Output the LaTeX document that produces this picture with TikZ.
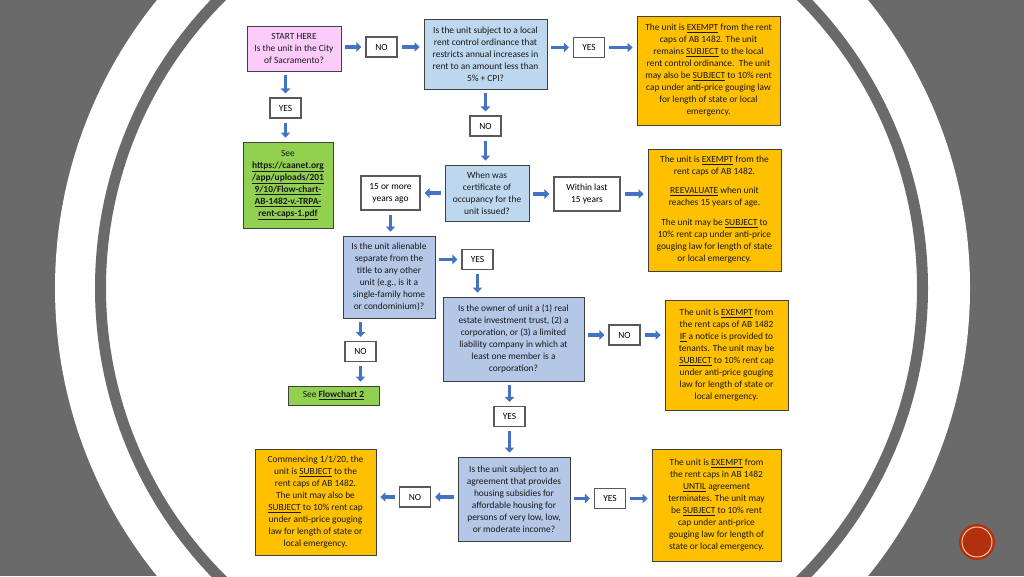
\documentclass[tikz,border=0pt]{standalone}
\usepackage{fontspec}
\setmainfont{Carlito}
\usepackage{tikz}
\usetikzlibrary{arrows.meta,calc}
\definecolor{slidegray}{HTML}{6A6A6A}
\definecolor{startpink}{HTML}{FBCBFA}
\definecolor{askblue}{HTML}{BDD7EE}
\definecolor{askblue2}{HTML}{B4C7E7}
\definecolor{ruleorange}{HTML}{FFC000}
\definecolor{linkgreen}{HTML}{92D050}
\definecolor{flowblue}{HTML}{4472C4}
\definecolor{dotred}{HTML}{B3300F}
\definecolor{dotring}{HTML}{F4C7A8}

\begin{document}
\begin{tikzpicture}[x=1pt,y=-1pt,
  card/.style={draw=black!75,line width=0.9pt,align=center,inner sep=2pt,
    font=\fontsize{9.4}{12}\selectfont,text=black!90},
  tag/.style={draw=black!65,line width=1.2pt,fill=white,align=center,inner sep=1pt,
    font=\fontsize{9.4}{12}\selectfont,minimum width=31pt,minimum height=20pt},
  flow/.style={flowblue,line width=3.6pt,shorten <=4pt,shorten >=4pt,
    -{Triangle[length=5pt,width=9.5pt]}}]
\useasboundingbox (0,0) rectangle (1024,576);
\clip (0,0) rectangle (1024,576);
% slide background
\fill[slidegray] (0,0) rectangle (1024,576);
\fill[white] (512.5,288) circle (457.5pt);
\draw[slidegray,line width=11pt] (511.5,288) circle (411pt);
\fill[dotred] (977,542) circle (18pt);
\draw[dotring,line width=1pt] (977,542) circle (15pt);

% row 1: start, local ordinance, exempt
\node[card,fill=startpink,minimum width=94pt,minimum height=45pt] (start) at (294,48.5)
  {START HERE\\Is the unit in the City\\of Sacramento?};
\node[tag] (no1) at (381.5,47) {NO};
\node[card,fill=askblue,minimum width=123pt,minimum height=70pt] (q1) at (485.5,54)
  {Is the unit subject to a local\\rent control ordinance that\\restricts annual increases in\\rent to an amount less than\\5\% + CPI?};
\node[tag] (yes1) at (589,47.5) {YES};
\node[card,fill=ruleorange,minimum width=143pt,minimum height=109pt] (a1) at (708.5,70.5)
  {The unit is \underline{EXEMPT} from the rent\\caps of AB 1482. The unit\\remains \underline{SUBJECT} to the local\\rent control ordinance.\ \ The unit\\may also be \underline{SUBJECT} to 10\% rent\\cap under anti-price gouging law\\for length of state or local\\emergency.};
\node[tag] (yes0) at (285.5,108) {YES};
\node[card,fill=linkgreen,minimum width=90pt,minimum height=86pt] (see) at (288,185)
  {See\\\textbf{\underline{https://caanet.org}}\\\textbf{\underline{/app/uploads/201}}\\\textbf{\underline{9/10/Flow-chart-}}\\\textbf{\underline{AB-1482-v.-TRPA-}}\\\textbf{\underline{rent-caps-1.pdf}}};

% row 2: age of the certificate
\node[tag] (no2) at (485.5,126) {NO};
\node[card,fill=askblue,minimum width=84pt,minimum height=56pt] (q2) at (487,193)
  {When was\\certificate of\\occupancy for the\\unit issued?};
\node[tag,minimum width=59pt,minimum height=34pt] (old) at (390.5,193) {15 or more\\years ago};
\node[tag,minimum width=66pt,minimum height=34pt] (new) at (587,194) {Within last\\15 years};
\node[card,fill=ruleorange,minimum width=133pt,minimum height=122pt] (a2) at (714.5,210)
  {The unit is \underline{EXEMPT} from the\\rent caps of AB 1482.\\[7pt]\underline{REEVALUATE} when unit\\reaches 15 years of age.\\[8pt]The unit may be \underline{SUBJECT} to\\10\% rent cap under anti-price\\gouging law for length of state\\or local emergency.};

% row 3: alienable unit, owner
\node[card,fill=askblue2,minimum width=92pt,minimum height=82pt] (q3) at (389,277)
  {Is the unit alienable\\separate from the\\title to any other\\unit (e.g., is it a\\single-family home\\or condominium)?};
\node[tag] (yes3) at (477.5,259.5) {YES};
\node[card,fill=askblue2,minimum width=141pt,minimum height=84pt] (q4) at (513.5,339)
  {Is the owner of unit a (1) real\\estate investment trust, (2) a\\corporation, or (3) a limited\\liability company in which at\\least one member is a\\corporation?};
\node[tag] (no3) at (360.5,351.5) {NO};
\node[card,fill=linkgreen,minimum width=91pt,minimum height=19pt] (fc2) at (333.5,395.5)
  {See \textbf{\underline{Flowchart 2}}};
\node[tag] (no4) at (624.5,335) {NO};
\node[card,fill=ruleorange,minimum width=123pt,minimum height=110pt] (a3) at (726.5,355)
  {The unit is \underline{EXEMPT} from\\the rent caps of AB 1482\\\underline{IF} a notice is provided to\\tenants. The unit may be\\\underline{SUBJECT} to 10\% rent cap\\under anti-price gouging\\law for length of state or\\local emergency.};

% row 4: housing subsidies
\node[tag] (yes4) at (509.5,416.5) {YES};
\node[card,fill=askblue2,minimum width=112pt,minimum height=84pt] (q5) at (514,499)
  {Is the unit subject to an\\agreement that provides\\housing subsidies for\\affordable housing for\\persons of very low, low,\\or moderate income?};
\node[tag] (no5) at (415,497) {NO};
\node[card,fill=ruleorange,minimum width=121pt,minimum height=106pt] (a4) at (315.5,502)
  {Commencing 1/1/20, the\\unit is \underline{SUBJECT} to the\\rent caps of AB 1482.\\The unit may also be\\\underline{SUBJECT} to 10\% rent cap\\under anti-price gouging\\law for length of state or\\local emergency.};
\node[tag] (yes5) at (610,498.5) {YES};
\node[card,fill=ruleorange,minimum width=129pt,minimum height=112pt] (a5) at (716.5,505)
  {The unit is \underline{EXEMPT} from\\the rent caps in AB 1482\\\underline{UNTIL} agreement\\terminates. The unit may\\be \underline{SUBJECT} to 10\% rent\\cap under anti-price\\gouging law for length of\\state or local emergency.};

% block arrows
\draw[flow] (start.east |- no1) -- (no1);
\draw[flow] (no1) -- (no1 -| q1.west);
\draw[flow] (q1.east |- yes1) -- (yes1);
\draw[flow] (yes1) -- (yes1 -| a1.west);
\draw[flow] (yes0 |- start.south) -- (yes0);
\draw[flow] (yes0) -- (yes0 |- see.north);
\draw[flow] (q1) -- (no2);
\draw[flow] (no2) -- (no2 |- q2.north);
\draw[flow] (q2.west |- old) -- (old);
\draw[flow] (q2.east |- new) -- (new);
\draw[flow] (new) -- (new -| a2.west);
\draw[flow] (old) -- (old |- q3.north);
\draw[flow] (q3.east |- yes3) -- (yes3);
\draw[flow] (yes3) -- (yes3 |- q4.north);
\draw[flow] (no3 |- q3.south) -- (no3);
\draw[flow] (no3) -- (no3 |- fc2.north);
\draw[flow] (q4.east |- no4) -- (no4);
\draw[flow] (no4) -- (no4 -| a3.west);
\draw[flow] (yes4 |- q4.south) -- (yes4);
\draw[flow] (yes4) -- (yes4 |- q5.north);
\draw[flow] (q5.west |- no5) -- (no5);
\draw[flow] (no5) -- (no5 -| a4.east);
\draw[flow] (q5.east |- yes5) -- (yes5);
\draw[flow] (yes5) -- (yes5 -| a5.west);
\end{tikzpicture}
\end{document}
